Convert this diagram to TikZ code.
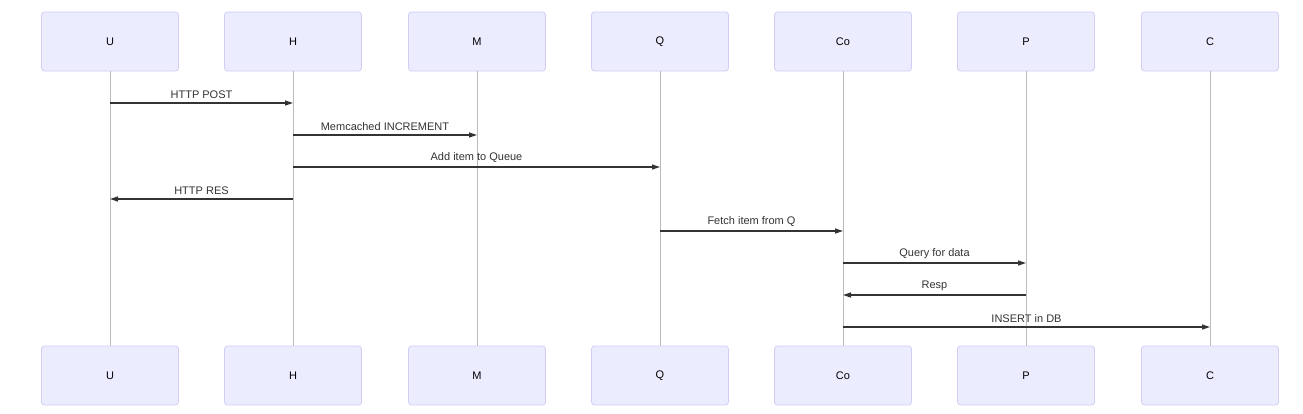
\documentclass[tikz,border=0pt]{standalone}
\usepackage{fontspec}
\setmainfont{Liberation Sans}
\usetikzlibrary{arrows.meta}
\definecolor{actfill}{HTML}{ECECFF}
\definecolor{actdraw}{HTML}{D3CCF5}
\definecolor{lifec}{HTML}{BBBBBB}
\definecolor{msgc}{HTML}{333333}
\begin{document}
\begin{tikzpicture}[x=1pt,y=-1pt,
  actor/.style={draw=actdraw, fill=actfill, rounded corners=3pt, line width=0.8pt,
    minimum width=137pt, minimum height=59pt, inner sep=0pt, font=\fontsize{11}{13}\selectfont, text=black},
  life/.style={draw=lifec, line width=0.8pt},
  msg/.style={draw=msgc, line width=1.3pt, -{Triangle[length=8pt,width=5pt]}},
  lbl/.style={font=\fontsize{11}{13}\selectfont, text=msgc, inner sep=1pt, above=3pt}]
\useasboundingbox (0,0) rectangle (1303,413);
\foreach \n/\x in {U/110,H/293,M/477,Q/660,Co/843,P/1026,C/1210}{
  \node[actor] (\n top) at (\x,41.5) {\n};
  \node[actor] (\n bot) at (\x,375.5) {\n};
  \draw[life] (\n top.south) -- (\n bot.north);
}
\foreach \a/\b/\y/\t in {U/H/103/HTTP POST, H/M/135/Memcached INCREMENT, H/Q/167/Add item to Queue, H/U/199/HTTP RES, Q/Co/231/Fetch item from Q, Co/P/263/Query for data, P/Co/295/Resp, Co/C/327/INSERT in DB}{
  \coordinate (s) at (\a top.south |- 0,\y);
  \coordinate (e) at (\b top.south |- 0,\y);
  \draw[msg] (s) -- node[lbl] {\t} (e);
}
\end{tikzpicture}
\end{document}
